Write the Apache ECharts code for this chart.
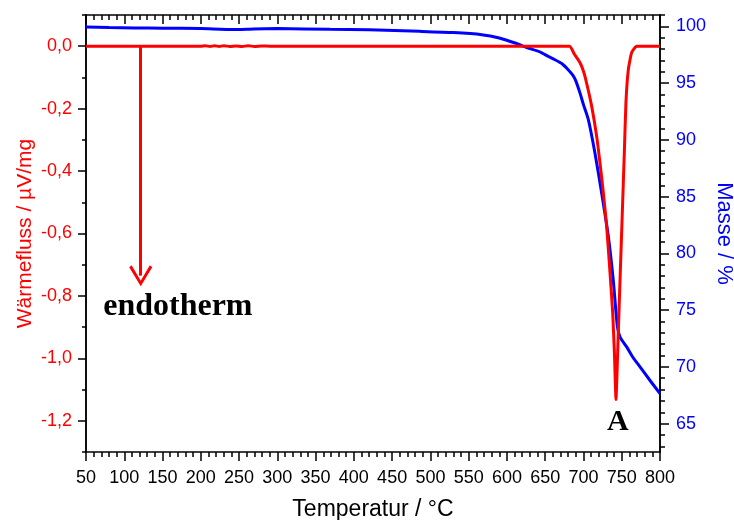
<!DOCTYPE html>
<html>
<head>
<meta charset="utf-8">
<script src="https://cdn.jsdelivr.net/npm/echarts@6/dist/echarts.min.js"></script>
<style>html,body{margin:0;padding:0;background:#fff}#c{width:734px;height:520px}</style>
</head>
<body>
<div id="c"></div>
<script>
// Temperature (°C) and heat flow (µV/mg) for DSC curve
const dscT = [50, 120, 200, 206, 212, 218, 224, 230, 238, 246, 254, 262, 270, 280, 290, 300, 400, 500, 600, 682, 688, 695.5, 700, 704, 710.7, 717.2, 721.6, 726, 730.3, 734.7, 738.2, 740.4, 742.5, 744.7, 746.8, 749, 751.2, 753.4, 755.5, 758.6, 763, 769.6, 800];
const dscV = [0, 0, 0, 0.0015, -0.001, 0.0015, -0.001, 0.0015, -0.001, 0.001, -0.001, 0.0015, -0.001, 0.001, 0.000, 0, 0, 0, 0, 0, -0.025, -0.053, -0.08, -0.117, -0.192, -0.288, -0.374, -0.47, -0.577, -0.726, -0.855, -0.98, -1.132, -0.98, -0.82, -0.66, -0.50, -0.34, -0.18, -0.075, -0.02, 0, 0];
// Temperature (°C) and mass (%) for TG curve
const tgT = [50, 80, 113, 150, 200, 243, 269, 300, 369, 420, 486, 530, 567, 590, 610.6, 628, 643, 654, 662.8, 672, 680, 686, 690, 695.5, 700, 706.4, 715.1, 723.8, 732.5, 739, 744.2, 748, 756.5, 765, 773.9, 787, 800];
const tgM = [99.95, 99.9, 99.86, 99.84, 99.8, 99.72, 99.77, 99.8, 99.74, 99.7, 99.56, 99.45, 99.27, 98.98, 98.53, 98.09, 97.75, 97.35, 97.06, 96.7, 96.18, 95.7, 95.2, 94.12, 93.1, 91.77, 88.8, 85.3, 81.5, 77.6, 73.6, 72.6, 71.76, 70.8, 70.0, 68.8, 67.65];
// Tick labels
const leftMajor = [-1.2, -1.0, -0.8, -0.6, -0.4, -0.2, 0.0];
const leftMinor = [-1.3, -1.1, -0.9, -0.7, -0.5, -0.3, -0.1, 0.1];
const rightMajor = [65, 70, 75, 80, 85, 90, 95, 100];
const rightMinor = [63, 64, 66, 67, 68, 69, 71, 72, 73, 74, 76, 77, 78, 79, 81, 82, 83, 84, 86, 87, 88, 89, 91, 92, 93, 94, 96, 97, 98, 99, 101];
// Annotations
const arrowFrom = [121.5, 0];
const arrowTo = [121.5, -0.735];
const endoPos = [170, -0.835];
const peakPos = [745, -1.205];

const FONT = 'Liberation Sans, Arial, sans-serif';
const lineBlack = {show: true, onZero: false, lineStyle: {color: '#000', width: 1.5}};

const chart = echarts.init(document.getElementById('c'), null, {renderer: 'canvas'});
const dsc = dscT.map((t, i) => [t, dscV[i]]);
const tg = tgT.map((t, i) => [t, tgM[i]]);

function xAx(pos) {
  const bottom = pos === 'bottom';
  return {
    type: 'value', position: pos, min: 50, max: 800, interval: 50,
    axisLine: lineBlack,
    axisTick: {show: true, inside: !bottom, length: 9, lineStyle: {color: '#000', width: 1.5}},
    minorTick: {show: true, splitNumber: 5, length: 5, lineStyle: {color: '#000', width: 1.5}},
    axisLabel: {show: bottom, margin: 17, color: '#000', fontSize: 18, fontFamily: FONT},
    splitLine: {show: false}, minorSplitLine: {show: false},
    name: bottom ? 'Temperatur / °C' : '', nameLocation: 'middle', nameGap: 46, nameMoveOverlap: false,
    nameTextStyle: {color: '#000', fontSize: 23, fontFamily: FONT}
  };
}

const option = {
  animation: false,
  backgroundColor: '#fff',
  grid: {left: 86, right: 74, top: 15, bottom: 68, containLabel: false, outerBoundsMode: 'none'},
  xAxis: [xAx('bottom'), xAx('top')],
  yAxis: [
    {
      type: 'value', position: 'left', min: -1.3, max: 0.1,
      axisLine: lineBlack,
      axisTick: {show: true, length: 8, lineStyle: {color: '#000', width: 1.5}, customValues: leftMajor},
      axisLabel: {margin: 14, color: '#ff0000', fontSize: 18, fontFamily: FONT, customValues: leftMajor,
        formatter: v => (Math.round(v * 10) / 10).toFixed(1).replace('.', ',')},
      splitLine: {show: false},
      name: 'Wärmefluss / µV/mg', nameLocation: 'middle', nameRotate: 90, nameGap: 50, nameMoveOverlap: false,
      nameTextStyle: {color: '#ff0000', fontSize: 21, fontFamily: FONT}
    },
    {
      type: 'value', position: 'left', min: -1.3, max: 0.1,
      axisLine: lineBlack,
      axisTick: {show: true, length: 4, lineStyle: {color: '#000', width: 1.5}, customValues: leftMinor},
      axisLabel: {show: false}, splitLine: {show: false}
    },
    {
      type: 'value', position: 'right', min: 62.5, max: 101,
      axisLine: lineBlack,
      axisTick: {show: true, length: 9, lineStyle: {color: '#000', width: 1.5}, customValues: rightMajor},
      axisLabel: {margin: 16, color: '#0000ff', fontSize: 18, fontFamily: FONT, customValues: rightMajor},
      splitLine: {show: false},
      name: 'Masse / %', nameLocation: 'middle', nameRotate: -90, nameGap: 53, nameMoveOverlap: false,
      nameTextStyle: {color: '#0000ff', fontSize: 22, fontFamily: FONT}
    },
    {
      type: 'value', position: 'right', min: 62.5, max: 101,
      axisLine: lineBlack,
      axisTick: {show: true, length: 5, lineStyle: {color: '#000', width: 1.5}, customValues: rightMinor},
      axisLabel: {show: false}, splitLine: {show: false}
    }
  ],
  series: [
    {
      type: 'line', name: 'TG', xAxisIndex: 0, yAxisIndex: 2, data: tg,
      showSymbol: false, smooth: 0.2, lineStyle: {color: '#0000ff', width: 3}, itemStyle: {color: '#0000ff'}, z: 2
    },
    {
      type: 'line', name: 'DSC', xAxisIndex: 0, yAxisIndex: 0, data: dsc,
      showSymbol: false, smooth: 0.15, lineStyle: {color: '#ff0000', width: 3}, itemStyle: {color: '#ff0000'}, z: 3,
      markLine: {
        silent: true, animation: false,
        symbol: ['none', 'path://M12,0 L24,19 L21.5,21 L12,5.5 L2.5,21 L0,19 Z'],
        symbolSize: [23, 21],
        lineStyle: {color: '#ff0000', width: 3, type: 'solid'},
        label: {show: false},
        data: [[{coord: arrowFrom}, {coord: arrowTo}]]
      }
    }
  ]
};
chart.setOption(option);

const p1 = chart.convertToPixel({xAxisIndex: 0, yAxisIndex: 0}, endoPos);
const p2 = chart.convertToPixel({xAxisIndex: 0, yAxisIndex: 0}, peakPos);
chart.setOption({
  graphic: [
    {type: 'text', x: p1[0], y: p1[1], style: {text: 'endotherm', fill: '#000', font: 'bold 32px "Liberation Serif", "Times New Roman", serif', align: 'center', verticalAlign: 'middle'}},
    {type: 'text', x: p2[0], y: p2[1], style: {text: 'A', fill: '#000', font: 'bold 30px "Liberation Serif", "Times New Roman", serif', align: 'center', verticalAlign: 'middle'}}
  ]
});
</script>
</body>
</html>
